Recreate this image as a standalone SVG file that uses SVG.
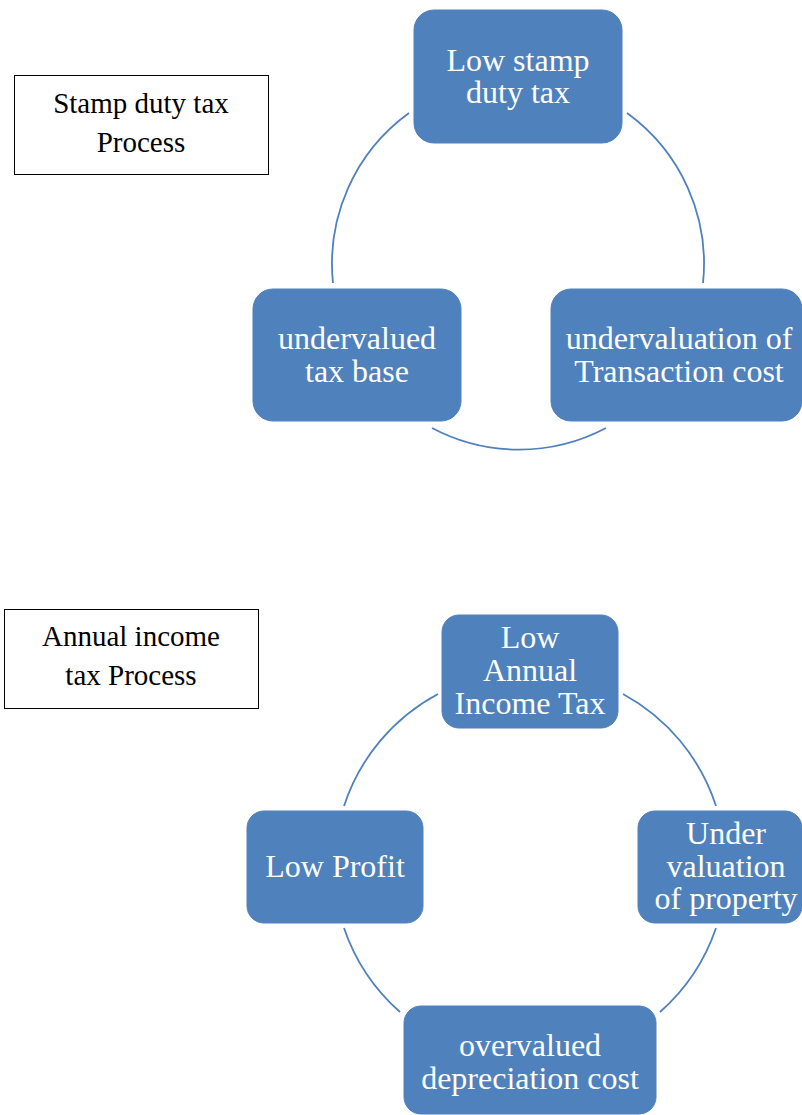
<svg xmlns="http://www.w3.org/2000/svg" width="802" height="1115" viewBox="0 0 802 1115">
<style>
.node{fill:#4F81BD;stroke:#4F81BD;stroke-width:1}
.nt{font-family:"Liberation Serif","Times New Roman",serif;font-size:32px;fill:#ffffff;text-anchor:middle}
.lbl{fill:#ffffff;stroke:#000000;stroke-width:1}
.lt{font-family:"Liberation Serif","Times New Roman",serif;font-size:29px;fill:#000000;text-anchor:middle}
.arc{fill:none;stroke:#4F81BD;stroke-width:1.8}
</style>
<rect width="802" height="1115" fill="#ffffff"/>
<g id="connectors">
<path class="arc" d="M409,113 A186,186 0 0 0 333,283"/>
<path class="arc" d="M627,113 A186,186 0 0 1 703,283"/>
<path class="arc" d="M432,428 A186,186 0 0 0 606,428"/>
<path class="arc" d="M438,694 A196,196 0 0 0 344,806"/>
<path class="arc" d="M623,694 A196,196 0 0 1 716,806"/>
<path class="arc" d="M716,928 A196,196 0 0 1 660,1012"/>
<path class="arc" d="M344,928 A196,196 0 0 0 400,1012"/>
</g>
<g id="label-stamp">
<rect class="lbl" x="14.5" y="75.5" width="254" height="99"/>
<text class="lt" x="141" y="113">Stamp duty tax</text>
<text class="lt" x="141" y="152">Process</text>
</g>
<g id="label-annual">
<rect class="lbl" x="4.5" y="609.5" width="254" height="99"/>
<text class="lt" x="131" y="646">Annual income</text>
<text class="lt" x="131" y="685">tax Process</text>
</g>
<g id="n-low-stamp">
<rect class="node" x="414" y="10" width="208" height="133" rx="20"/>
<text class="nt" x="518" y="71">Low stamp</text>
<text class="nt" x="518" y="103">duty tax</text>
</g>
<g id="n-undervalued-base">
<rect class="node" x="253" y="289" width="208" height="132" rx="20"/>
<text class="nt" x="357" y="349">undervalued</text>
<text class="nt" x="357" y="382">tax base</text>
</g>
<g id="n-undervaluation-transaction">
<rect class="node" x="551" y="289" width="251" height="132" rx="20"/>
<text class="nt" x="679" y="349">undervaluation of</text>
<text class="nt" x="679" y="382">Transaction cost</text>
</g>
<g id="n-low-annual">
<rect class="node" x="442" y="615" width="176" height="113" rx="17"/>
<text class="nt" x="530" y="648">Low</text>
<text class="nt" x="530" y="681">Annual</text>
<text class="nt" x="530" y="714">Income Tax</text>
</g>
<g id="n-low-profit">
<rect class="node" x="247" y="811" width="176" height="112" rx="17"/>
<text class="nt" x="335" y="877">Low Profit</text>
</g>
<g id="n-under-valuation">
<rect class="node" x="638" y="811" width="164" height="112" rx="17"/>
<text class="nt" x="726" y="844">Under</text>
<text class="nt" x="726" y="877">valuation</text>
<text class="nt" x="726" y="909">of property</text>
</g>
<g id="n-overvalued-depreciation">
<rect class="node" x="404" y="1006" width="252" height="108" rx="17"/>
<text class="nt" x="530" y="1056">overvalued</text>
<text class="nt" x="530" y="1089">depreciation cost</text>
</g>
</svg>
